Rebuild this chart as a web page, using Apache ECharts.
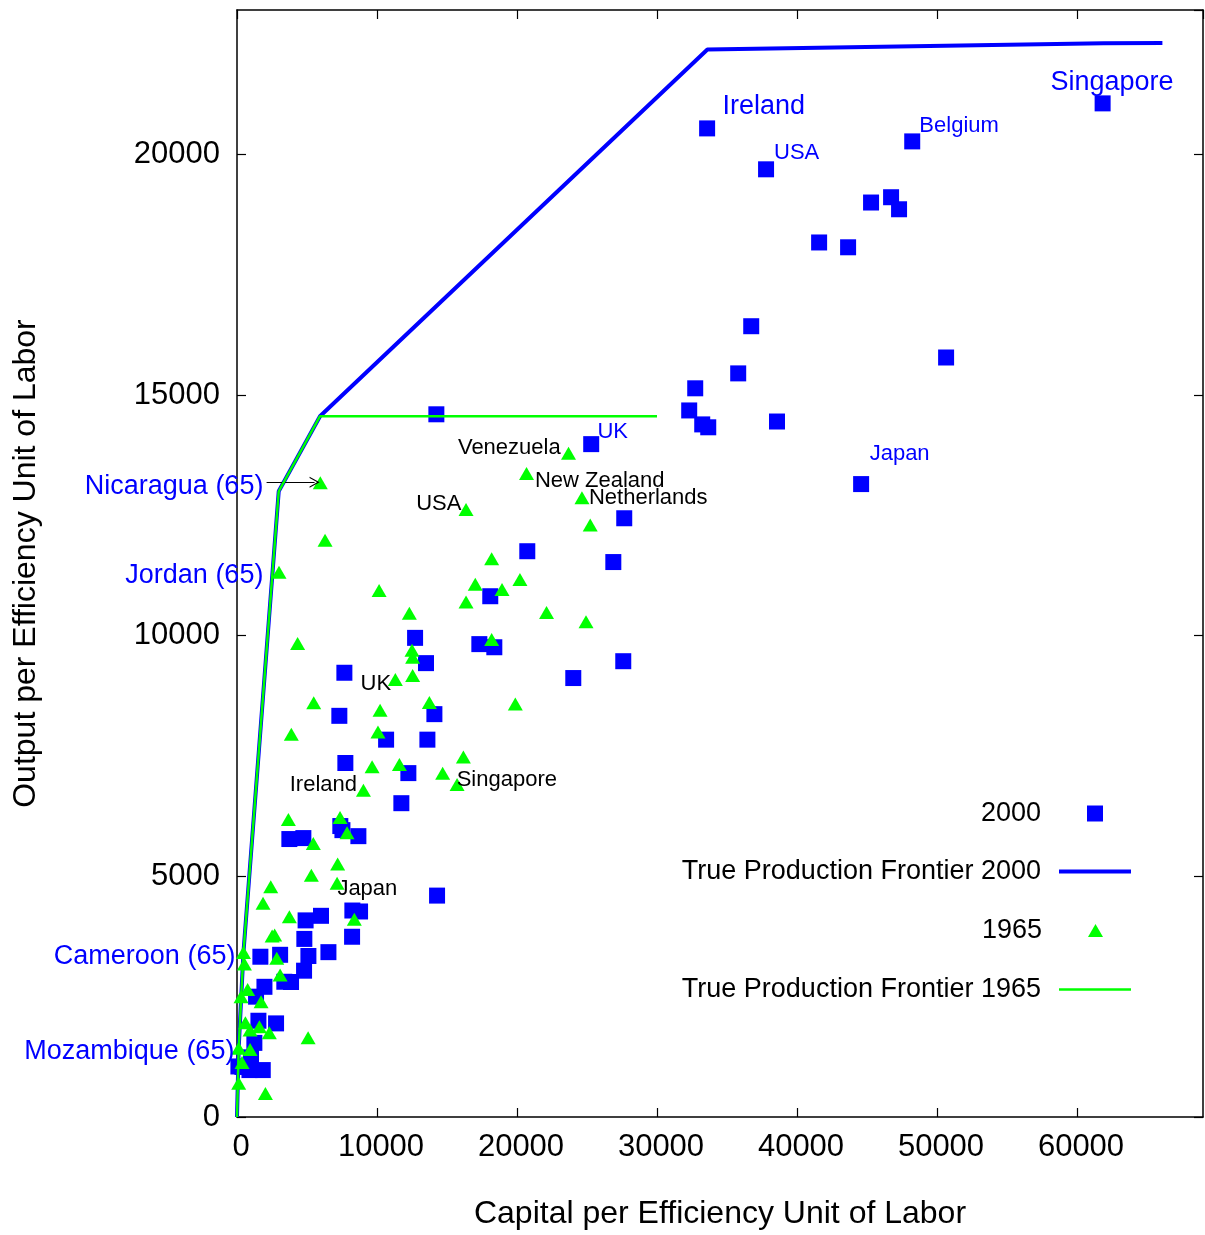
<!DOCTYPE html>
<html><head><meta charset="utf-8">
<script src="https://cdn.jsdelivr.net/npm/echarts@6/dist/echarts.min.js"></script>
<style>html,body{margin:0;padding:0;background:#fff}#c{width:1205px;height:1235px}</style>
</head><body><div id="c"></div>
<script>
// ---- data (capital per efficiency unit, output per efficiency unit) ----
const pts2000 = [
  [61830,21060],[33580,20540],[48230,20270],[37790,19690],[46720,19110],[45290,19000],[47290,18860],
  [41580,18170],[43650,18070],[36730,16430],[50650,15780],[35800,15450],[32730,15140],[32300,14680],
  [33230,14390],[33660,14330],[38570,14450],[44580,13150],
  [14240,14600],[25300,13980],[27660,12440],[20735,11755],[26880,11530],[18090,10820],[17310,9825],
  [18380,9760],[24020,9120],[27590,9470],
  [12720,9955],[13500,9430],[7670,9230],[7310,8335],[14100,8370],[10650,7840],[13600,7840],[7740,7355],
  [12240,7145],[11740,6520],
  [3740,5775],[4740,5795],[7380,6045],[7530,5960],[8670,5835],
  [14290,4600],[8240,4290],[8790,4270],[4900,4085],[6000,4180],[4810,3700],[8220,3745],
  [5100,3345],[6530,3425],[1670,3330],[3080,3370],[4790,3040],[3380,2810],[3860,2805],
  [1960,2705],[1360,2500],[1530,2000],[2790,1945],[1240,1540],[1000,1240],[1840,975],[890,975],
  [390,1040],[100,1050]
];
const pts1965 = [
  [5950,13180],[6290,11985],[3000,11320],[10150,10940],[12310,10465],[4330,9840],
  [16360,12620],[23680,13790],[20680,13370],[24640,12865],[25230,12300],
  [18190,11600],[17020,11070],[18930,10960],[20210,11170],[16360,10700],
  [22110,10480],[24930,10290],[18190,9920],[19880,8580],
  [12500,9700],[12545,9550],[11310,9090],[12545,9175],
  [5480,8605],[10220,8450],[13740,8610],
  [3880,7950],[10070,8000],[9650,7275],[11600,7325],[16170,7480],
  [14690,7140],[15720,6910],[9030,6790],
  [3670,6180],[7360,6225],[7860,5905],[5450,5685],
  [7190,5255],[5310,5025],[7150,4855],[2410,4785],[1860,4440],[3740,4160],[8380,4110],
  [2510,3760],[2690,3780],[460,3420],[2840,3300],[530,3180],[3080,2950],
  [760,2650],[290,2500],[1720,2395],[600,1960],[1600,1875],[935,1805],[2310,1750],
  [5080,1645],[120,1430],[935,1405],[360,1130],[120,700],[2030,490]
];
const frontier2000 = [[0,0],[120,1430],[460,3420],[2980,13000],[5930,14560],[33600,22180],[61900,22310],[66100,22315]];
const frontier1965 = [[0,0],[120,1430],[460,3420],[2980,13000],[5930,14560],[30000,14560]];

const seriesNames = ['2000','True Production Frontier 2000','1965','True Production Frontier 1965'];
const xTickLabels = ['0','10000','20000','30000','40000','50000','60000'];
const yTickLabels = ['0','5000','10000','15000','20000'];
const xTitle = 'Capital per Efficiency Unit of Labor';
const yTitle = 'Output per Efficiency Unit of Labor';

// annotations [text, x, y] in data coordinates
const blackLabels = [
  ['Venezuela',19450,13895],['New Zealand',25911,13209],['Netherlands',29374,12856],['USA',14416,12732],
  ['UK',9917,8993],['Ireland',6169,6895],['Singapore',19271,6999],['Japan',9311,4735]
];
const blueLabelsSmall = [['Belgium',51579,20583],['USA',39977,20022],['UK',26839,14227],['Japan',47331,13770]];
const blueLabelsLarge = [['Ireland',37621,20998],['Singapore',62504,21496]];
const leftLabels = [['Nicaragua (65)',1885,13106],['Jordan (65)',1885,11257],['Cameroon (65)',-114,3344],['Mozambique (65)',-186,1370]];
const arrowNicaragua = [[2113,13190],[5541,13190]];

const FONT = '"Liberation Sans", Arial, sans-serif';
const BLUE = '#0000ff', GREEN = '#00ff00';

function labelSeries(arr, color, size, pos) {
  return {
    type: 'scatter', silent: true, clip: false, z: 10,
    symbolSize: 0, itemStyle: {color: 'transparent', opacity: 1},
    data: arr.map(a => ({name: a[0], value: [a[1], a[2]]})),
    label: {show: true, position: pos, distance: 0, formatter: p => p.name, opacity: 1,
      color: color, fontSize: size, fontFamily: FONT, textBorderWidth: 0}
  };
}

function axisCommon() {
  return {
    axisLine: {show: true, onZero: false, lineStyle: {color: '#000', width: 1.5}},
    axisTick: {show: true, inside: true, length: 9, lineStyle: {color: '#000', width: 1.2}},
    splitLine: {show: false}
  };
}

function legendItem(name, icon, color, top, right, w, h, pad) {
  return {
    data: [{name: name, icon: icon, itemStyle: {color: color}}],
    orient: 'vertical', align: 'right', right: right, top: top, padding: 0,
    itemWidth: w, itemHeight: h, symbolKeepAspect: false,
    textStyle: {fontSize: 27, fontFamily: FONT, color: '#000', padding: [0, pad, 0, 0]}
  };
}

const chart = echarts.init(document.getElementById('c'), null, {renderer: 'canvas'});
chart.setOption({
  animation: false,
  backgroundColor: '#fff',
  grid: {left: 237, right: 2, top: 10, bottom: 118, containLabel: false},
  xAxis: [
    Object.assign({type: 'value', min: 0, max: 69000, interval: 10000, position: 'bottom',
      name: xTitle, nameLocation: 'middle', nameGap: 81,
      nameTextStyle: {fontSize: 32, fontFamily: FONT, color: '#000'},
      axisLabel: {fontSize: 31, fontFamily: FONT, color: '#000', margin: 15, padding: [0,0,0,8],
        showMaxLabel: false, formatter: v => xTickLabels[Math.round(v/10000)] || ''}}, axisCommon()),
    Object.assign({type: 'value', min: 0, max: 69000, interval: 10000, position: 'top',
      axisLabel: {show: false}}, axisCommon())
  ],
  yAxis: [
    Object.assign({type: 'value', min: 0, max: 23000, interval: 5000, position: 'left',
      name: yTitle, nameLocation: 'middle', nameGap: 195,
      nameTextStyle: {fontSize: 32, fontFamily: FONT, color: '#000'},
      axisLabel: {fontSize: 31, fontFamily: FONT, color: '#000', margin: 17, padding: [4,0,0,0],
        showMaxLabel: false, formatter: v => yTickLabels[Math.round(v/5000)] || ''}}, axisCommon()),
    Object.assign({type: 'value', min: 0, max: 23000, interval: 5000, position: 'right',
      axisLabel: {show: false}}, axisCommon())
  ],
  legend: [
    legendItem(seriesNames[0], 'rect', BLUE, 800, 102, 16, 16, 41),
    legendItem(seriesNames[1], 'rect', BLUE, 858, 74, 72, 4, 13),
    legendItem(seriesNames[2], 'triangle', GREEN, 917, 102, 15, 13, 41),
    legendItem(seriesNames[3], 'rect', GREEN, 976, 74, 72, 2.5, 13)
  ],
  series: [
    {name: seriesNames[0], type: 'scatter', symbol: 'rect', symbolSize: 16, z: 2,
      itemStyle: {color: BLUE, opacity: 1}, data: pts2000},
    {name: seriesNames[1], type: 'line', symbol: 'none', z: 3, color: BLUE,
      lineStyle: {color: BLUE, width: 4}, data: frontier2000},
    {name: seriesNames[2], type: 'scatter', symbol: 'triangle', symbolSize: [15,13], z: 4,
      itemStyle: {color: GREEN, opacity: 1}, data: pts1965},
    {name: seriesNames[3], type: 'line', symbol: 'none', z: 5, color: GREEN,
      lineStyle: {color: GREEN, width: 2.5}, data: frontier1965},
    labelSeries(blackLabels, '#000', 22, 'inside'),
    labelSeries(blueLabelsSmall, BLUE, 22, 'inside'),
    labelSeries(blueLabelsLarge, BLUE, 27, 'inside'),
    labelSeries(leftLabels, BLUE, 27, 'left'),
    {type: 'line', silent: true, data: [], z: 6,
      markLine: {silent: true, symbol: ['none', 'path://M0,12 L6,0 L12,12 L10.6,12 L6,2.8 L1.4,12 Z'],
        symbolSize: [11, 10],
        label: {show: false}, lineStyle: {color: '#000', width: 1.2, type: 'solid'},
        data: [[{coord: arrowNicaragua[0]}, {coord: arrowNicaragua[1]}]]}}
  ]
});
</script></body></html>
